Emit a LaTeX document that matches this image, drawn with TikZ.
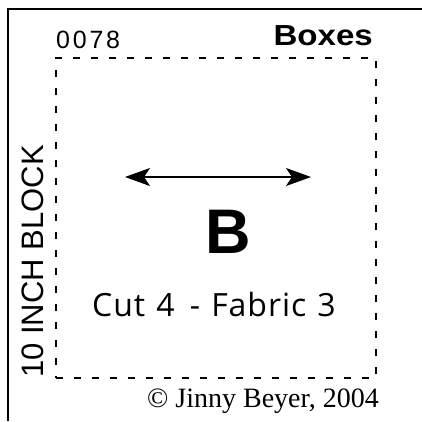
\documentclass[tikz,border=0pt]{standalone}
\usepackage{fontspec}
\setmainfont{Liberation Sans}
\newfontfamily\cutfont[LetterSpace=3,WordSpace=1.2]{Open Sans}
\newfontfamily\copyfont{Liberation Serif}
\newfontfamily\numfont[LetterSpace=11]{Liberation Sans}
\usetikzlibrary{arrows.meta,positioning}

\begin{document}
\begin{tikzpicture}[x=1pt,y=-1pt,inner sep=0pt]
    \useasboundingbox (0,0) rectangle (422,421);
    % frame
    \draw [line width=2.6pt] (8,421) -- (8,9) -- (422,9);

    \node (block) [rectangle, draw, line width=2.4pt, dash pattern=on 7pt off 11pt, minimum width=320pt, minimum height=320pt, anchor=north west] at (55,57) {};
    \node (num) [anchor=base west] at (56,48) {\numfont\fontsize{25}{25}\selectfont 0078};
    \node (name) [anchor=base east, xscale=1.14] at (373,45) {\fontsize{29}{29}\selectfont\bfseries Boxes};
    \node (size) [anchor=base west, rotate=90] at (43,378) {\fontsize{31}{31}\selectfont 10 INCH BLOCK};
    \node (piece) [anchor=base] at (228,253) {\fontsize{63}{63}\selectfont\bfseries B};
    \node (cut) [anchor=base] at (214,316) {\cutfont\fontsize{32}{32}\selectfont Cut 4\hspace{4pt} - Fabric 3};
    \node (copy) [anchor=base east] at (379,407) {\copyfont\fontsize{28}{28}\selectfont \textcopyright{} Jinny Beyer, 2004};

    \coordinate (grainL) at (125,177);
    \coordinate (grainR) at (311,177);
    \draw [{Stealth[length=25pt,width=18pt,inset=6pt]}-{Stealth[length=25pt,width=18pt,inset=6pt]}, line width=1.4pt] (grainL) -- (grainR);
\end{tikzpicture}
\end{document}
